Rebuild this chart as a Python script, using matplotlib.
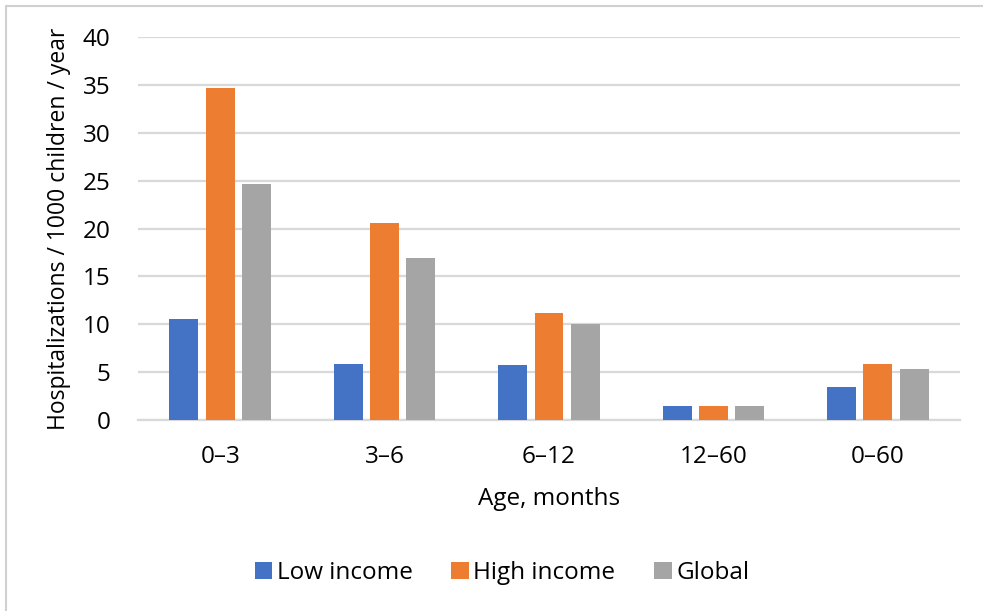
import matplotlib
matplotlib.use("Agg")
import matplotlib.pyplot as plt
from matplotlib.patches import Rectangle
import numpy as np

plt.rcParams['font.family'] = ['Open Sans', 'DejaVu Sans']

age_groups = ["0\u20133", "3\u20136", "6\u201312", "12\u201360", "0\u201360"]
low_income = [10.6, 5.9, 5.7, 1.5, 3.5]
high_income = [34.7, 20.6, 11.2, 1.5, 5.9]
global_rate = [24.7, 16.9, 10.0, 1.5, 5.3]
series_names = ["Low income", "High income", "Global"]
y_ticks = [0, 5, 10, 15, 20, 25, 30, 35, 40]

colors = ["#4472C4", "#ED7D31", "#A5A5A5"]
grid_color = "#D9D9D9"
text_color = "#000000"
fs = 17.5

fig = plt.figure(figsize=(9.83, 6.11), dpi=100)
ax = fig.add_axes([138 / 983, 1 - 420 / 611, (960 - 138) / 983, (420 - 37.3) / 611])

x = np.arange(len(age_groups))
bar_w = 0.176
step = 0.221
for i, (vals, name) in enumerate(zip([low_income, high_income, global_rate], series_names)):
    ax.bar(x + (i - 1) * step, vals, width=bar_w, color=colors[i], label=name,
           zorder=3, edgecolor="none")

ax.set_xlim(-0.5, len(age_groups) - 0.5)
ax.set_ylim(0, 40)
ax.set_yticks(y_ticks)
ax.set_xticks(x)
ax.set_xticklabels(age_groups)
ax.yaxis.grid(True, color=grid_color, linewidth=1.6, zorder=0)
ax.set_axisbelow(True)
for s in ["top", "right", "left"]:
    ax.spines[s].set_visible(False)
ax.spines["bottom"].set_color(grid_color)
ax.spines["bottom"].set_linewidth(1.6)
ax.tick_params(axis="both", length=0, labelsize=fs, colors=text_color)
ax.tick_params(axis="y", pad=20)
ax.tick_params(axis="x", pad=18)

ax.set_ylabel("Hospitalizations / 1000 children / year", fontsize=16.5, labelpad=8)
ax.set_xlabel("Age, months", fontsize=fs, labelpad=13)

leg = fig.legend(loc="center", bbox_to_anchor=(502 / 983, 1 - 573 / 611), ncol=3,
                 frameon=False, fontsize=fs, handlelength=0.72, handleheight=0.72,
                 handletextpad=0.18, columnspacing=1.6)

# outer chart frame
fig.patches.append(Rectangle((6 / 983, -0.1), 1.2, 1 - 6 / 611 + 0.1,
                             transform=fig.transFigure, fill=False,
                             edgecolor="#D0D0D0", linewidth=1.5))

fig.savefig("out.png", dpi=100)
